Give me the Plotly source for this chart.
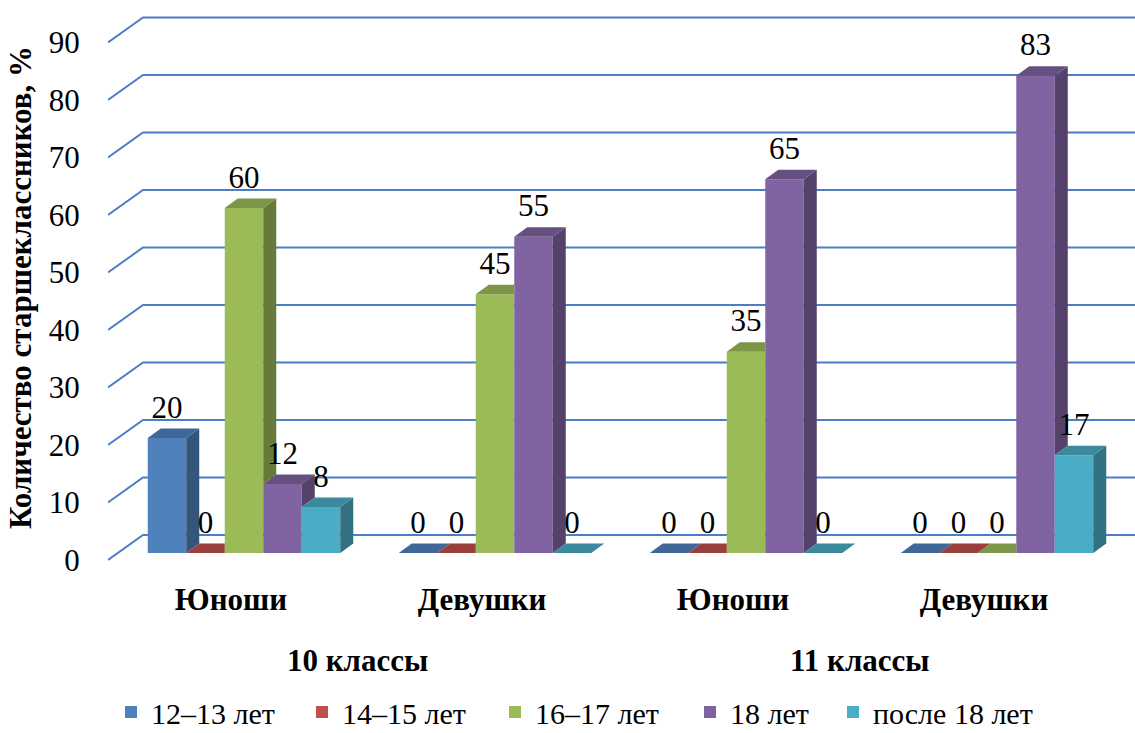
import plotly.graph_objects as go

# ---------------- data ----------------
categories = ["Юноши", "Девушки", "Юноши", "Девушки"]
groups = ["10 классы", "11 классы"]
series_names = ["12–13 лет", "14–15 лет", "16–17 лет", "18 лет", "после 18 лет"]
v_12_13 = [20, 0, 0, 0]
v_14_15 = [0, 0, 0, 0]
v_16_17 = [60, 45, 35, 0]
v_18 = [12, 55, 65, 83]
v_after18 = [8, 0, 0, 17]
y_ticks = [0, 10, 20, 30, 40, 50, 60, 70, 80, 90]
y_title = "Количество старшеклассников, %"

series_values = [v_12_13, v_14_15, v_16_17, v_18, v_after18]

# ---------------- style ----------------
front_colors = ["#4F81BD", "#C0504D", "#9BBB59", "#8064A2", "#4BACC6"]


def shade(hexcol, f):
    h = hexcol.lstrip("#")
    r, g, b = (int(h[i:i + 2], 16) for i in (0, 2, 4))
    return "#%02X%02X%02X" % (int(r * f), int(g * f), int(b * f))


top_colors = [shade(c, 0.80) for c in front_colors]
side_colors = [shade(c, 0.66) for c in front_colors]
grid_color = "#4A7EC6"
FONT = "'Liberation Serif', 'Times New Roman', 'DejaVu Serif', serif"

W, H = 1135, 733
ML, MR, MT, MB = 108, 0, 5, 163
PX_PER_CAT = 251.0          # pixels between category centres
PX_PER_UNIT = 5.75          # pixels per value unit
CAT0_PX = 244.0             # pixel x of first category centre
BASE_PX = 553.0             # pixel y of bar base (front face)

x_range = [(ML - CAT0_PX) / PX_PER_CAT, (W - MR - CAT0_PX) / PX_PER_CAT]
y_range = [(BASE_PX - (H - MB)) / PX_PER_UNIT, (BASE_PX - MT) / PX_PER_UNIT]

GROUP_W = 0.767
BW = GROUP_W / len(series_values)
DX = 13.0 / PX_PER_CAT        # depth shift of bar in x units
DY = 9.5 / PX_PER_UNIT        # depth shift of bar in y units
FRONT_OFF = -7.0 / PX_PER_UNIT    # front floor edge offset
BACK_OFF = 18.0 / PX_PER_UNIT     # back wall offset
WALL_DX = 35.0 / PX_PER_CAT       # x shift front->back wall
LABEL_OFF = 4.9

# legend item anchor positions (pixels), one legend per series
legend_left_px = [111, 302, 495, 690, 833]

fig = go.Figure()
xs = list(range(len(categories)))

# front faces as real bars
for k, (name, vals) in enumerate(zip(series_names, series_values)):
    fig.add_trace(go.Bar(
        x=xs, y=vals, name=name, width=BW, offset=-GROUP_W / 2 + k * BW,
        marker=dict(color=front_colors[k], line=dict(width=0)),
        hoverinfo="skip", legend="legend" if k == 0 else "legend%d" % (k + 1),
    ))

# side and top faces, left to right
for i in xs:
    for k, vals in enumerate(series_values):
        v = vals[i]
        L = i - GROUP_W / 2 + k * BW
        R = L + BW
        vn = series_values[k + 1][i] if k + 1 < len(series_values) else None
        lo = 0 if vn is None else max(vn, 0)
        if v > lo:
            fig.add_trace(go.Scatter(
                x=[R, R, R + DX, R + DX, R], y=[lo, v, v + DY, lo + DY, lo],
                mode="lines", fill="toself", fillcolor=side_colors[k],
                line=dict(width=0), showlegend=False, hoverinfo="skip"))
        if vn is not None and vn > v:
            tx = [L, R, R, L + DX, L]
        else:
            tx = [L, R, R + DX, L + DX, L]
        ty = [v, v, v + DY, v + DY, v]
        fig.add_trace(go.Scatter(
            x=tx, y=ty, mode="lines", fill="toself", fillcolor=top_colors[k],
            line=dict(width=0), showlegend=False, hoverinfo="skip"))

# data labels
for k, vals in enumerate(series_values):
    fig.add_trace(go.Scatter(
        x=[i - GROUP_W / 2 + (k + 0.5) * BW for i in xs],
        y=[v + LABEL_OFF for v in vals],
        text=[str(v) for v in vals], mode="text",
        textfont=dict(family=FONT, size=31, color="#000000"),
        textposition="middle center", showlegend=False, hoverinfo="skip"))

# gridlines (back wall + slanted side wall), below traces
shapes = []
for t in y_ticks:
    x0 = x_range[0]
    path = "M {},{} L {},{} L {},{}".format(
        x0, t + FRONT_OFF, x0 + WALL_DX, t + BACK_OFF, x_range[1], t + BACK_OFF)
    shapes.append(dict(type="path", path=path, xref="x", yref="y", layer="below",
                       line=dict(color=grid_color, width=2)))

# group labels
annotations = []
for gi, g in enumerate(groups):
    annotations.append(dict(
        x=2 * gi + 0.5, y=0, xref="x", yref="paper", yanchor="middle",
        yshift=-(660 - (H - MB)), xshift=-12, showarrow=False,
        text=g, font=dict(family=FONT, size=31, color="#000000", weight="bold")))

legends = {}
for k, px in enumerate(legend_left_px):
    key = "legend" if k == 0 else "legend%d" % (k + 1)
    legends[key] = dict(
        orientation="h", xref="container", yref="container",
        x=px / W, y=1 - 712 / H, xanchor="left", yanchor="middle",
        font=dict(family=FONT, size=30, color="#000000"),
        bgcolor="rgba(0,0,0,0)", borderwidth=0)

shift_cat = 13.0 / PX_PER_CAT
fig.update_layout(
    width=W, height=H,
    margin=dict(l=ML, r=MR, t=MT, b=MB),
    paper_bgcolor="white", plot_bgcolor="white",
    barmode="overlay",
    font=dict(family=FONT, color="#000000"),
    shapes=shapes, annotations=annotations,
    xaxis=dict(range=x_range, showgrid=False, zeroline=False, showticklabels=False,
               showline=False, fixedrange=True),
    xaxis2=dict(range=[x_range[0] + shift_cat, x_range[1] + shift_cat], overlaying="x",
                side="bottom", anchor="y", tickmode="array", tickvals=xs,
                ticktext=categories,
                tickfont=dict(family=FONT, size=31, color="#000000", weight="bold"),
                ticks="outside", ticklen=2, tickcolor="rgba(0,0,0,0)",
                showgrid=False, zeroline=False, showline=False),
    yaxis=dict(range=y_range, showgrid=False, zeroline=False, showticklabels=False,
               showline=False),
    yaxis2=dict(range=[y_range[0] - FRONT_OFF, y_range[1] - FRONT_OFF], overlaying="y",
                side="left", anchor="x", tickmode="array", tickvals=y_ticks,
                tickfont=dict(family=FONT, size=31, color="#000000"),
                ticks="outside", ticklen=21, tickcolor="rgba(0,0,0,0)",
                showgrid=False, zeroline=False, showline=False,
                title=dict(text=y_title, standoff=7,
                           font=dict(family=FONT, size=31, color="#000000",
                                     weight="bold"))),
    showlegend=True,
    **legends,
)
fig.add_trace(go.Scatter(x=[None], y=[None], xaxis="x2", yaxis="y2",
                         showlegend=False, hoverinfo="skip"))

fig.write_html("out.html", config={"displayModeBar": False},
               post_script="document.body.style.margin='0';")
